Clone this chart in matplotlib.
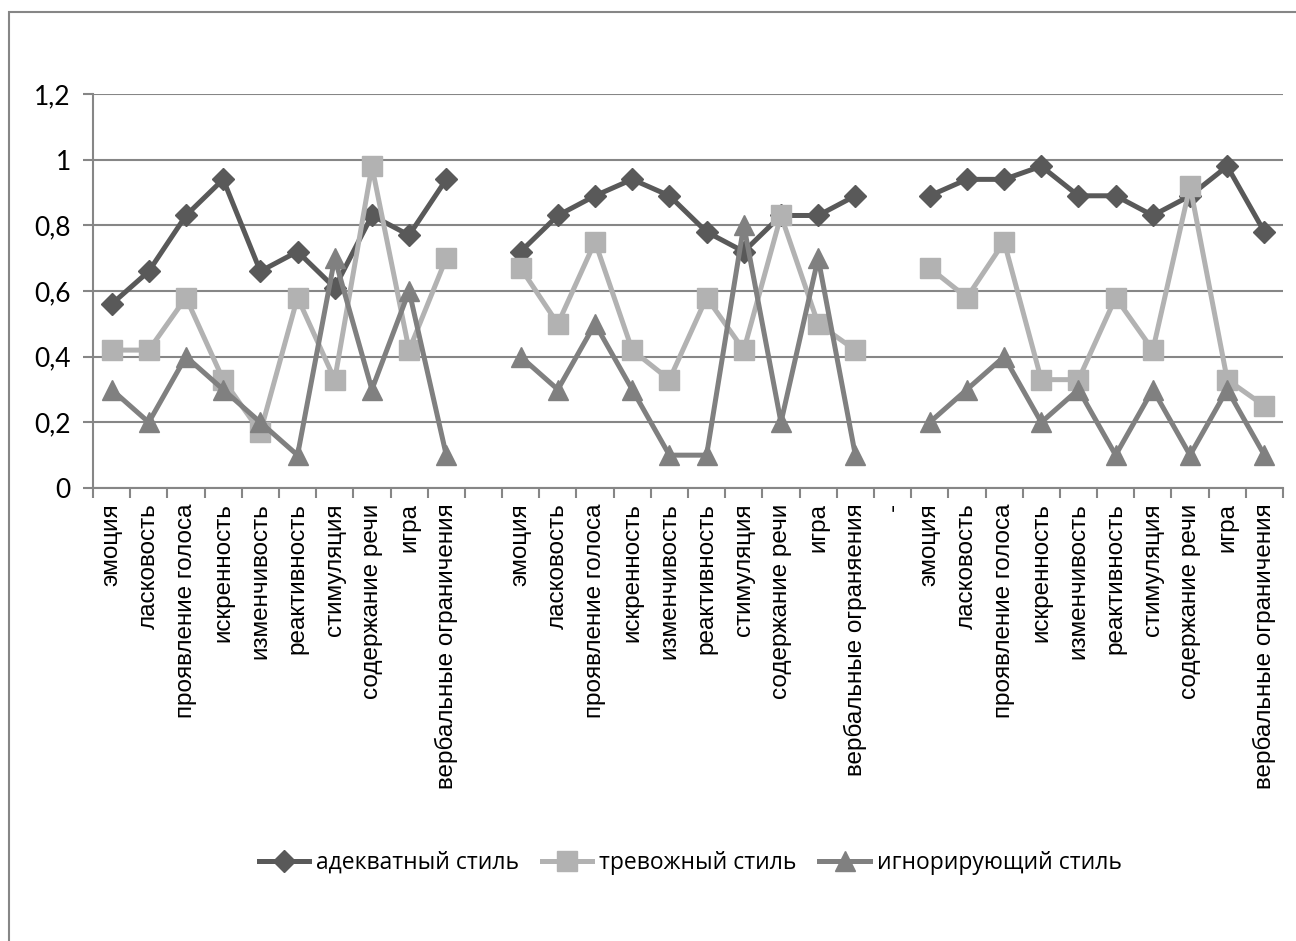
import numpy as np
import matplotlib.pyplot as plt
from matplotlib.patches import Rectangle

nan = np.nan

group1 = ["эмоция", "ласковость", "проявление голоса", "искренность", "изменчивость",
          "реактивность", "стимуляция", "содержание речи", "игра", "вербальные ограничения"]
group2 = ["эмоция", "ласковость", "проявление голоса", "искренность", "изменчивость",
          "реактивность", "стимуляция", "содержание речи", "игра", "вербальные ограняения"]
group3 = ["эмоция", "ласковость", "проявление голоса", "искренность", "изменчивость",
          "реактивность", "стимуляция", "содержание речи", "игра", "вербальные ограничения"]
categories = group1 + [""] + group2 + ["-"] + group3

adequate = [0.56, 0.66, 0.83, 0.94, 0.66, 0.72, 0.61, 0.83, 0.77, 0.94,
            nan,
            0.72, 0.83, 0.89, 0.94, 0.89, 0.78, 0.72, 0.83, 0.83, 0.89,
            nan,
            0.89, 0.94, 0.94, 0.98, 0.89, 0.89, 0.83, 0.89, 0.98, 0.78]
anxious = [0.42, 0.42, 0.58, 0.33, 0.17, 0.58, 0.33, 0.98, 0.42, 0.70,
           nan,
           0.67, 0.50, 0.75, 0.42, 0.33, 0.58, 0.42, 0.83, 0.50, 0.42,
           nan,
           0.67, 0.58, 0.75, 0.33, 0.33, 0.58, 0.42, 0.92, 0.33, 0.25]
ignoring = [0.3, 0.2, 0.4, 0.3, 0.2, 0.1, 0.7, 0.3, 0.6, 0.1,
            nan,
            0.4, 0.3, 0.5, 0.3, 0.1, 0.1, 0.8, 0.2, 0.7, 0.1,
            nan,
            0.2, 0.3, 0.4, 0.2, 0.3, 0.1, 0.3, 0.1, 0.3, 0.1]
series_names = ["адекватный стиль", "тревожный стиль", "игнорирующий стиль"]

fig = plt.figure(figsize=(12.96, 9.41), dpi=100)
ax = fig.add_axes([93/1296, 1 - 488/941, (1283 - 93)/1296, (488 - 94)/941])

# outer chart frame
fig.patches.append(Rectangle((9/1296, -0.05), 1.1, 1 - 12/941 + 0.05, transform=fig.transFigure,
                             fill=False, edgecolor="#868686", linewidth=1.5))

x = np.arange(len(categories))
grid_c = "#868686"

ax.plot(x, adequate, color="#595959", lw=3.6, marker="D", ms=11, label=series_names[0])
ax.plot(x, anxious, color="#B2B2B2", lw=3.6, marker="s", ms=14.5, label=series_names[1])
ax.plot(x, ignoring, color="#808080", lw=3.6, marker="^", ms=14, label=series_names[2])

ax.set_xlim(-0.5, len(categories) - 0.5)
ax.set_ylim(0, 1.2)
ax.set_yticks([0, 0.2, 0.4, 0.6, 0.8, 1.0, 1.2])
ax.set_yticklabels(["0", "0,2", "0,4", "0,6", "0,8", "1", "1,2"], fontsize=19, family=["Lato", "DejaVu Sans"])
ax.yaxis.grid(True, color=grid_c, lw=1.5)
ax.set_axisbelow(True)

ax.set_xticks(x)
ax.set_xticklabels(categories, rotation=90, fontsize=17.5, family=["Liberation Sans", "DejaVu Sans"], va="top")
ax.set_xticks(np.arange(-0.5, len(categories)), minor=True)
ax.tick_params(axis="x", which="major", length=0, pad=11)
ax.tick_params(axis="x", which="minor", length=7, color=grid_c, width=1.5)
ax.tick_params(axis="y", length=7, color=grid_c, width=1.5, pad=9)

for s in ["top", "right"]:
    ax.spines[s].set_visible(False)
for s in ["left", "bottom"]:
    ax.spines[s].set_color(grid_c)
    ax.spines[s].set_linewidth(1.5)

fig.legend(loc="center", bbox_to_anchor=(690/1296, 1 - 863/941), ncol=3, frameon=False,
           handlelength=2.2, handletextpad=0.3, columnspacing=1.0,
           prop={"family": ["Open Sans", "DejaVu Sans"], "size": 16.5})

fig.savefig("out.png", dpi=100)
